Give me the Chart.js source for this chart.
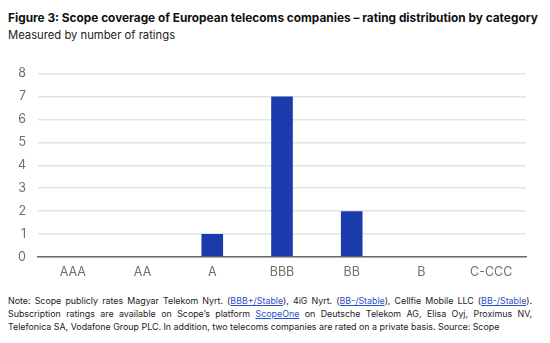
<!DOCTYPE html>
<html><head><meta charset="utf-8">
<script src="https://cdn.jsdelivr.net/npm/chart.js@4/dist/chart.umd.min.js"></script>
<style>
html,body{margin:0;padding:0;background:#fff;width:550px;height:343px;overflow:hidden;font-family:Inter,"Noto Sans",sans-serif;}
.t{position:absolute;white-space:nowrap;}
#title{left:8px;top:11px;font-size:12.6px;font-weight:700;color:#111;}
#sub{left:8px;top:28px;font-size:12.6px;color:#222;}
#wrap{position:absolute;left:0;top:54px;width:550px;height:234px;}
.nl{position:absolute;left:8px;font-size:9.4px;color:#222;white-space:nowrap;}
.nl a{color:#2b4fc7;text-decoration:underline;}
</style></head><body>
<div id="title" class="t">Figure 3: Scope coverage of European telecoms companies – rating distribution by category</div>
<div id="sub" class="t">Measured by number of ratings</div>
<div id="wrap"><canvas id="c"></canvas></div>
<div id="n1" class="nl" style="top:295px">Note: Scope publicly rates Magyar Telekom Nyrt. (<a>BBB+/Stable</a>), 4iG Nyrt. (<a>BB-/Stable</a>), Cellfie Mobile LLC (<a>BB-/Stable</a>).</div>
<div id="n2" class="nl" style="top:308px">Subscription ratings are available on Scope’s platform <a>ScopeOne</a> on Deutsche Telekom AG, Elisa Oyj, Proximus NV,</div>
<div id="n3" class="nl" style="top:321px">Telefonica SA, Vodafone Group PLC. In addition, two telecoms companies are rated on a private basis. Source: Scope</div>
<script>
function fitWidth(id, w){
  const el = document.getElementById(id);
  const fs = parseFloat(getComputedStyle(el).fontSize);
  const cw = el.getBoundingClientRect().width;
  el.style.fontSize = (fs * w / cw) + 'px';
}
function justify(id, w){
  const el = document.getElementById(id);
  const txt = el.textContent;
  const spaces = (txt.match(/ /g) || []).length;
  const cw = el.getBoundingClientRect().width;
  el.style.wordSpacing = ((w - cw) / spaces) + 'px';
}
fitWidth('title', 530);
fitWidth('sub', 167);
fitWidth('n3', 491);
const nfs = document.getElementById('n3').style.fontSize;
document.getElementById('n1').style.fontSize = nfs;
document.getElementById('n2').style.fontSize = nfs;
justify('n1', 524);
justify('n2', 524);

const categories = ["AAA","AA","A","BBB","BB","B","C-CCC"];
const ratingCounts = [0,0,1,7,2,0,0];
const yTicks = [0,1,2,3,4,5,6,7,8];

new Chart(document.getElementById('c'), {
  type: 'bar',
  data: { labels: categories, datasets: [{ data: ratingCounts, backgroundColor: '#1b3aab', borderWidth:0, barPercentage: 0.31, categoryPercentage: 1.0 }] },
  options: {
    responsive: true, maintainAspectRatio: false, animation: false,
    layout: { padding: { left: 0, right: 24, top: 6, bottom: 0 } },
    plugins: { legend: { display: false }, tooltip: { enabled: false } },
    scales: {
      x: {
        grid: { display: false, drawTicks:false },
        border: { display: true, color: '#6b6b6b', width: 1.5 },
        ticks: { color: '#6f6f6f', font: { family: 'Inter', size: 12.5 }, padding: 8, maxRotation:0 }
      },
      y: {
        min: 0, max: 8,
        afterBuildTicks: s => { s.ticks = yTicks.map(v => ({ value: v })); },
        afterFit: s => { s.width = 38; },
        grid: { color: '#e4e4e4', lineWidth: 1.5, drawTicks: false },
        border: { display: false },
        ticks: { color: '#6f6f6f', font: { family: 'Inter', size: 12.5 }, padding: 12 }
      }
    }
  }
});
</script>
</body></html>
